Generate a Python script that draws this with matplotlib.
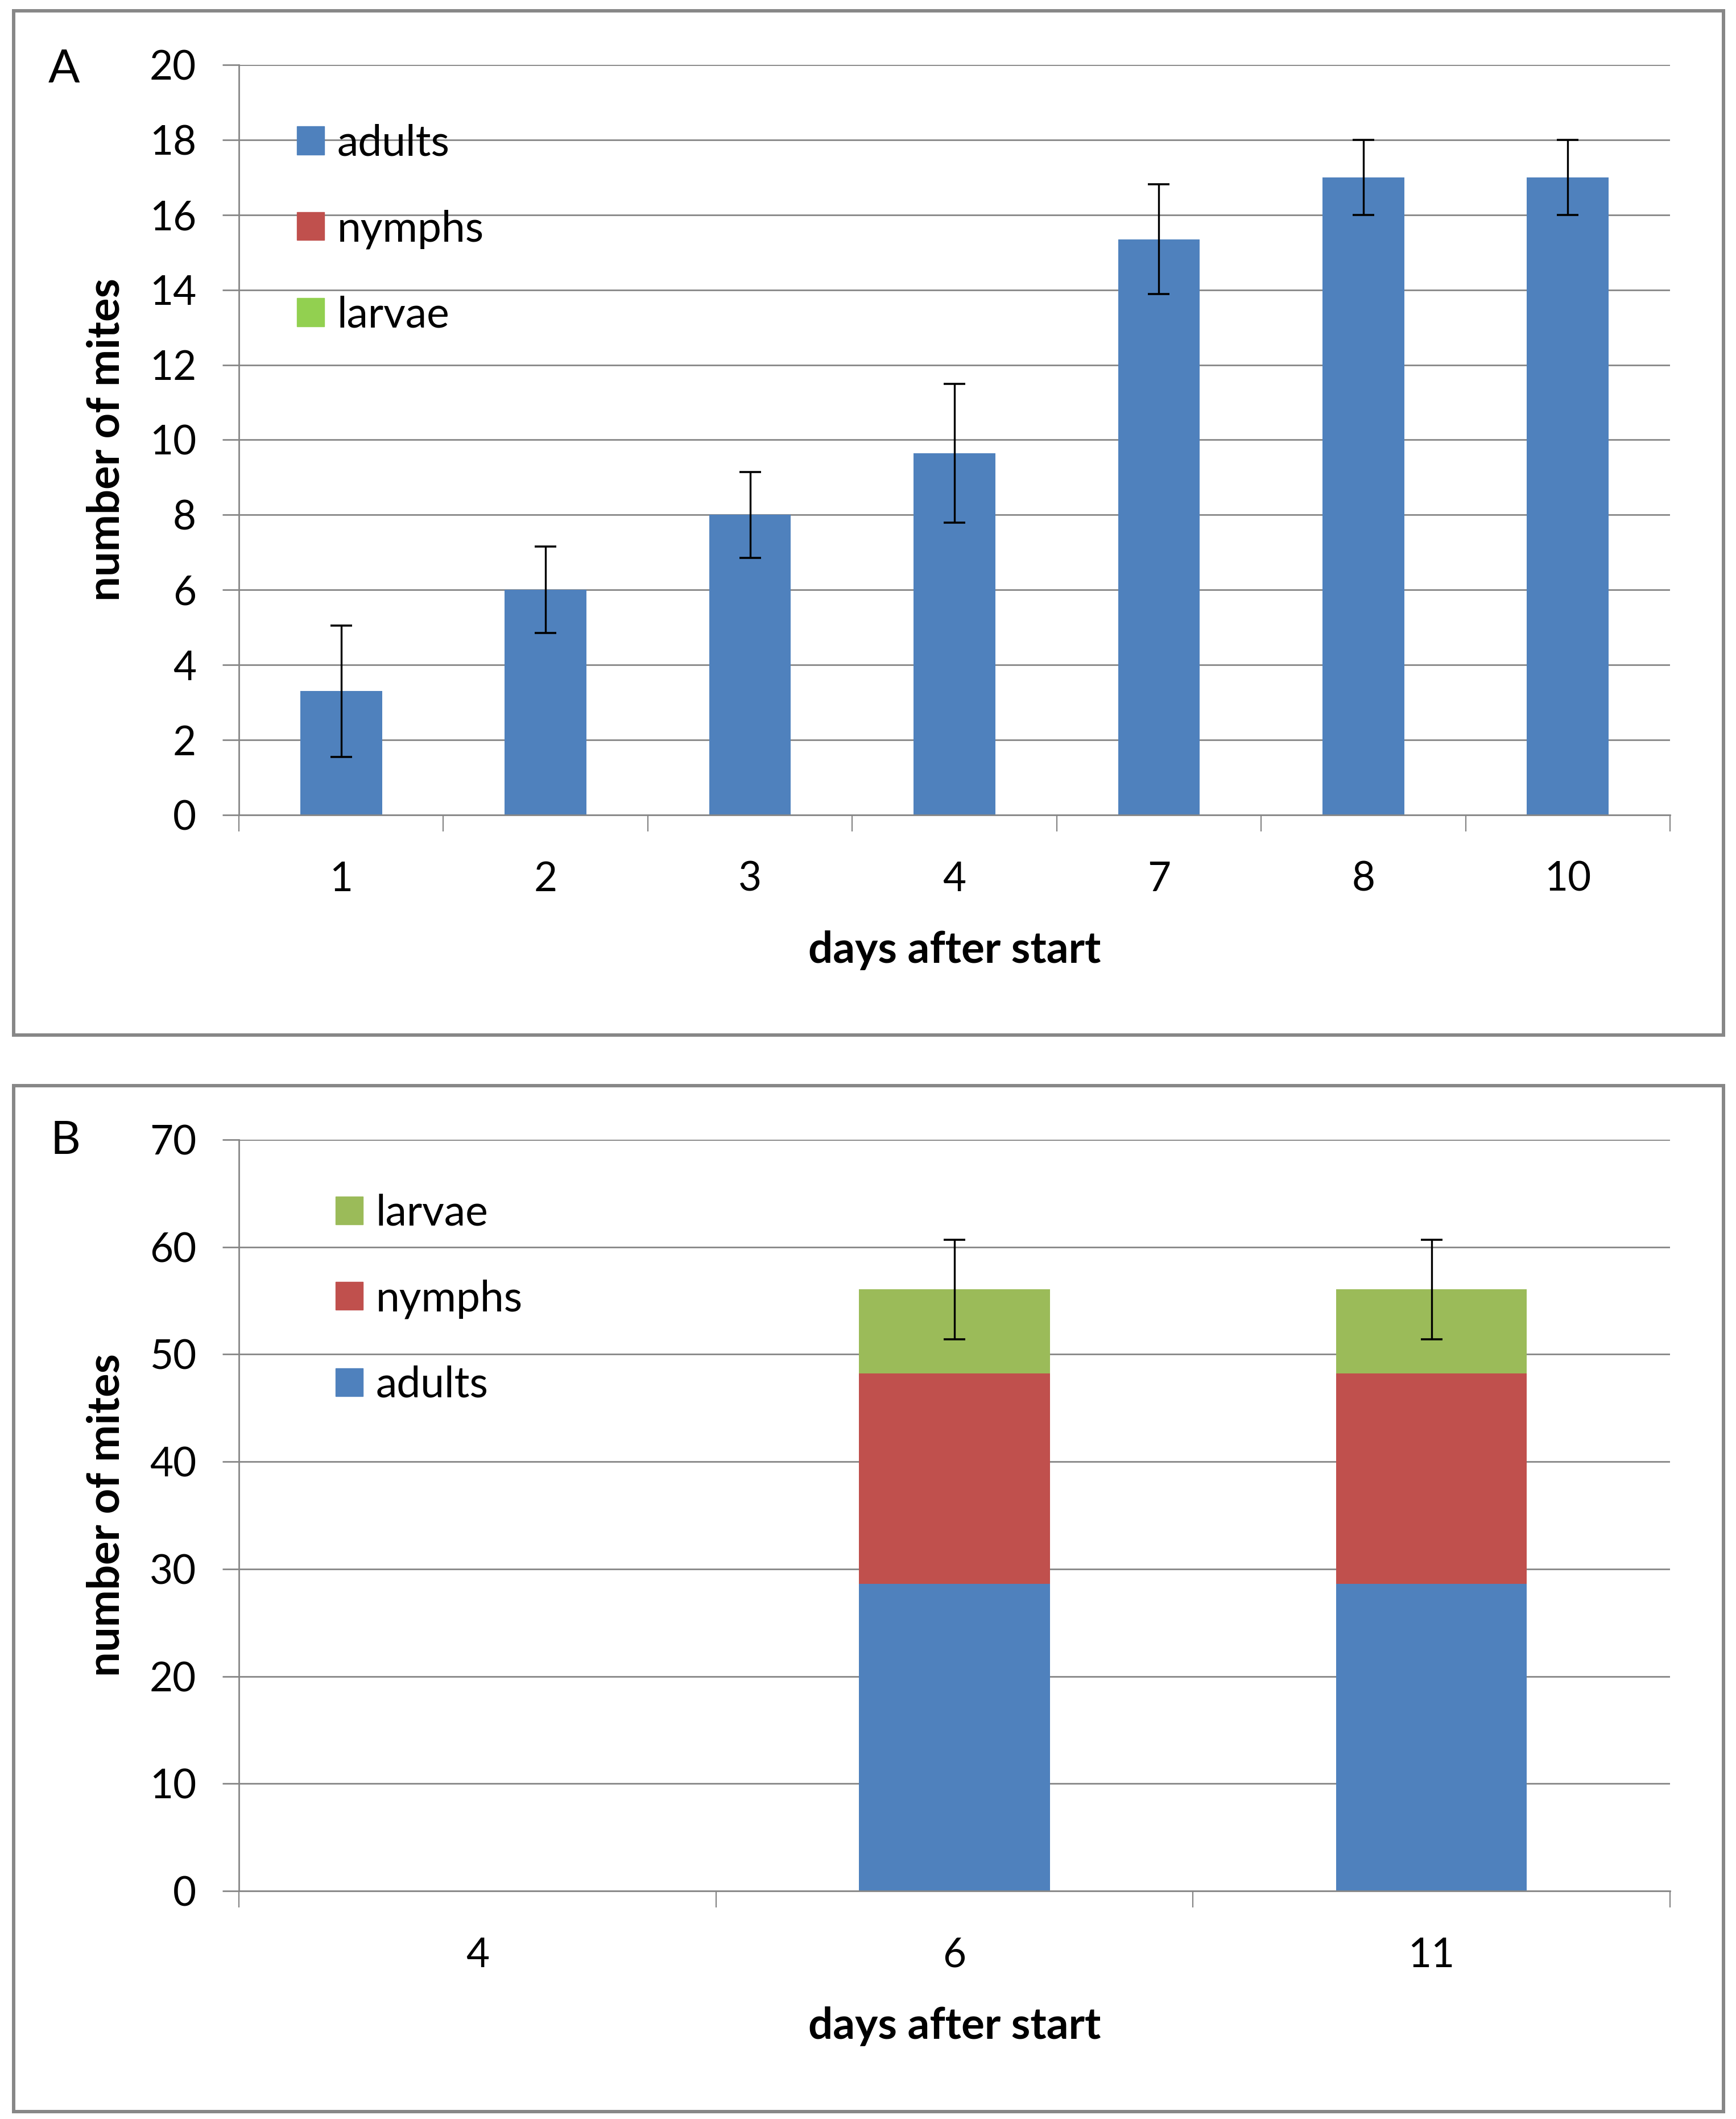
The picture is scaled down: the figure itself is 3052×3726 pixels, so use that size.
import numpy as np
import matplotlib
matplotlib.use('Agg')
import matplotlib.pyplot as plt
from matplotlib.patches import Patch, Rectangle

plt.rcParams['font.family'] = ['Lato', 'DejaVu Sans']

# --- panel A
days_a = ['1', '2', '3', '4', '7', '8', '10']
adults_a = [3.3, 6.0, 8.0, 9.65, 15.35, 17.0, 17.0]
nymphs_a = [0, 0, 0, 0, 0, 0, 0]
larvae_a = [0, 0, 0, 0, 0, 0, 0]
err_a = [1.75, 1.15, 1.15, 1.85, 1.46, 1.0, 1.0]

# --- panel B
days_b = ['4', '6', '11']
adults_b = [0, 28.6, 28.6]
nymphs_b = [0, 19.6, 19.6]
larvae_b = [0, 7.85, 7.85]
err_b = [0, 4.65, 4.65]

BLUE = '#4F81BD'
RED = '#C0504D'
GREEN_A = '#92D050'
GREEN_B = '#9BBB59'
GRID = '#868686'
FRAME = '#878787'

W, H = 3052, 3726
fig = plt.figure(figsize=(W / 100, H / 100), dpi=100)


def fx(px):
    return px / W


def fy(py):
    return 1 - py / H


# panel frames
for top, bottom in [(19, 1820), (1909, 3713)]:
    fig.add_artist(Rectangle((fx(24), fy(bottom)), fx(3030) - fx(24), fy(top) - fy(bottom),
                             transform=fig.transFigure, fill=False, ec=FRAME, lw=4.3))


def style(ax, labels, ymax, ystep):
    n = len(labels)
    ax.set_xlim(-0.5, n - 0.5)
    ax.set_ylim(0, ymax)
    ax.set_yticks(np.arange(0, ymax + 0.1, ystep))
    ax.set_xticks(np.arange(n + 1) - 0.5)
    ax.set_xticklabels([])
    ax.set_xticks(np.arange(n), minor=True)
    ax.set_xticklabels(labels, minor=True)
    ax.tick_params(axis='x', which='major', length=21, width=1.6, color=GRID, direction='out')
    ax.tick_params(axis='x', which='minor', length=0, pad=58, labelsize=51)
    ax.tick_params(axis='y', length=21, width=2, color=GRID, pad=33, labelsize=51)
    ax.yaxis.grid(True, color=GRID, lw=2)
    ax.set_axisbelow(True)
    for s in ['top', 'right']:
        ax.spines[s].set_visible(False)
    for s in ['left', 'bottom']:
        ax.spines[s].set_color(GRID)
        ax.spines[s].set_linewidth(2)
    ax.set_xlabel('days after start', fontsize=55, fontweight='bold')
    ax.set_ylabel('number of mites', fontsize=56, fontweight='bold')
    ax.xaxis.set_label_coords(0.5, -203 / 1320)
    ax.yaxis.set_label_coords(-0.078, 0.5)


def stacked(ax, labels, series, colors, err):
    x = np.arange(len(labels))
    base = np.zeros(len(labels))
    for vals, c in zip(series, colors):
        vals = np.array(vals, dtype=float)
        ax.bar(x, vals, 0.4, bottom=base, color=c, lw=0, zorder=2)
        base = base + vals
    err = np.array(err, dtype=float)
    m = err > 0
    ax.errorbar(x[m], base[m], yerr=err[m], fmt='none', ecolor='black',
                elinewidth=2.4, capsize=14, capthick=2.6, zorder=5)


leg_kw = dict(loc='center left', frameon=False, fontsize=54, handlelength=0.64,
              handleheight=0.63, handletextpad=0.3, labelspacing=1.09,
              borderpad=0, borderaxespad=0)

# ---- A
axA = fig.add_axes([fx(420), fy(1433), fx(2936) - fx(420), fy(114) - fy(1433)])
stacked(axA, days_a, [adults_a, nymphs_a, larvae_a], [BLUE, RED, GREEN_A], err_a)
style(axA, days_a, 20, 2)
hA = [Patch(color=BLUE, label='adults'), Patch(color=RED, label='nymphs'),
      Patch(color=GREEN_A, label='larvae')]
axA.legend(handles=hA, bbox_to_anchor=(0.0405, 0.781), **leg_kw)
fig.text(fx(85), fy(145), 'A', fontsize=59, ha='left', va='baseline')

# ---- B
axB = fig.add_axes([fx(420), fy(3325), fx(2936) - fx(420), fy(2004) - fy(3325)])
stacked(axB, days_b, [adults_b, nymphs_b, larvae_b], [BLUE, RED, GREEN_B], err_b)
style(axB, days_b, 70, 10)
hB = [Patch(color=GREEN_B, label='larvae'), Patch(color=RED, label='nymphs'),
      Patch(color=BLUE, label='adults')]
axB.legend(handles=hB, bbox_to_anchor=(0.0676, 0.788), **leg_kw)
fig.text(fx(89), fy(2029), 'B', fontsize=59, ha='left', va='baseline')

fig.savefig('out.png', dpi=100, facecolor='white')
